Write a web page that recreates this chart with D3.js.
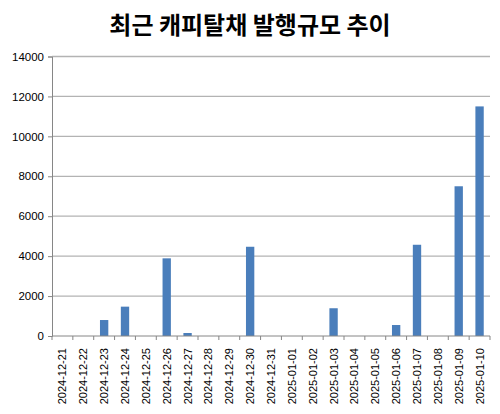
<!DOCTYPE html>
<html><head><meta charset="utf-8">
<script src="https://cdn.jsdelivr.net/npm/d3@7"></script>
<style>body{margin:0;background:#fff}svg{display:block}</style>
</head><body>
<svg id="c" width="500" height="414"></svg>
<script>
const title = "최근 캐피탈채 발행규모 추이";
const categories = ["2024-12-21","2024-12-22","2024-12-23","2024-12-24","2024-12-25","2024-12-26","2024-12-27","2024-12-28","2024-12-29","2024-12-30","2024-12-31","2025-01-01","2025-01-02","2025-01-03","2025-01-04","2025-01-05","2025-01-06","2025-01-07","2025-01-08","2025-01-09","2025-01-10"];
const values = [0,0,800,1470,0,3890,150,0,0,4470,0,0,0,1390,0,0,550,4570,0,7500,11500];
const yTicks = [0,2000,4000,6000,8000,10000,12000,14000];

const svg = d3.select("#c");
const m = {l:52, r:490, t:56.5, b:336};
const x = d3.scaleBand().domain(categories).range([m.l, m.r]).paddingInner(0.6).paddingOuter(0.3);
const xb = d3.scaleBand().domain(categories).range([m.l, m.r]);
const y = d3.scaleLinear().domain([0,14000]).range([m.b, m.t]);

svg.append("text").attr("x",250).attr("y",34).attr("text-anchor","middle")
  .attr("font-family","'Noto Sans CJK KR'").attr("font-weight","bold").attr("font-size",24)
  .attr("fill","#000").text(title);

// gridlines
svg.append("g").selectAll("line").data(yTicks.filter(d=>d>0)).join("line")
  .attr("x1",m.l).attr("x2",m.r).attr("y1",d=>y(d)).attr("y2",d=>y(d))
  .attr("stroke","#b3b3b3").attr("stroke-width",1.3);

// y axis
const ya = svg.append("g").attr("transform",`translate(${m.l},0)`)
  .call(d3.axisLeft(y).tickValues(yTicks).tickSize(4).tickPadding(4).tickFormat(d3.format("d")));
ya.selectAll("path,line").attr("stroke","#868686");
ya.selectAll("text").attr("font-family","'Liberation Sans', Arial").attr("font-size",11.5).attr("fill","#000");

// bars
svg.append("g").selectAll("rect").data(categories).join("rect")
  .attr("x",d=>x(d)).attr("width",x.bandwidth())
  .attr("y",(d,i)=>y(values[i])).attr("height",(d,i)=>y(0)-y(values[i]))
  .attr("fill","#4a7ebb");

// x axis
const xa = svg.append("g").attr("transform",`translate(0,${m.b})`);
xa.append("line").attr("x1",m.l).attr("x2",m.r).attr("stroke","#868686");
xa.selectAll("line.t").data(d3.range(categories.length+1)).join("line").attr("class","t")
  .attr("x1",i=>m.l+i*xb.step()).attr("x2",i=>m.l+i*xb.step()).attr("y1",0).attr("y2",4)
  .attr("stroke","#868686");
xa.selectAll("text").data(categories).join("text")
  .attr("transform",d=>`translate(${xb(d)+xb.bandwidth()/2+4},12) rotate(-90)`)
  .attr("text-anchor","end")
  .attr("font-family","'Liberation Sans', Arial").attr("font-size",11).attr("fill","#000")
  .text(d=>d);
</script>
</body></html>
